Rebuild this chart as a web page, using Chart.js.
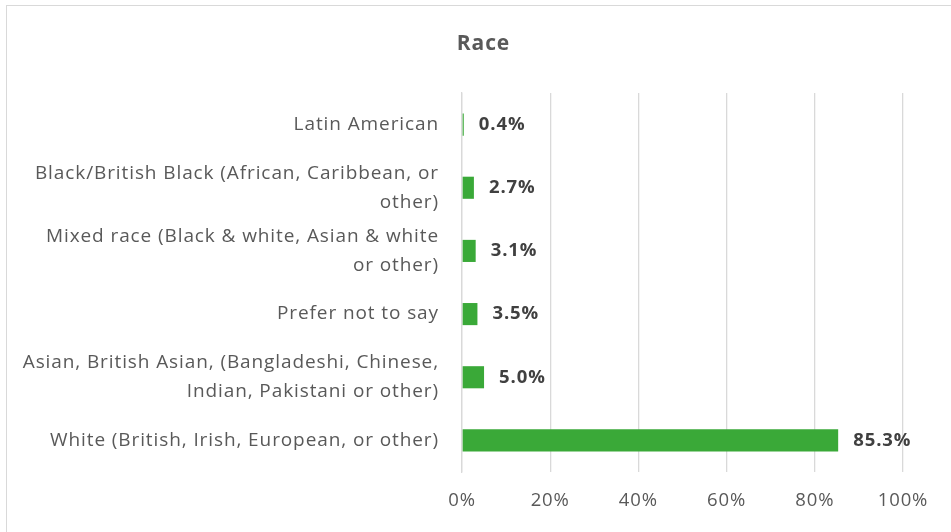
<!DOCTYPE html>
<html>
<head>
<meta charset="utf-8">
<script src="https://cdn.jsdelivr.net/npm/chart.js@4"></script>
<style>
  html, body { margin: 0; padding: 0; background: #fff; overflow: hidden; }
  #frame { position: absolute; left: 6px; top: 5px; width: 980px; height: 560px; border: 1.5px solid #d9d9d9; }
  #wrap { position: absolute; left: 0; top: 0; width: 951px; height: 532px; }
</style>
</head>
<body>
<div id="frame"></div>
<div id="wrap"><canvas id="c" width="951" height="532"></canvas></div>
<script>
// Survey respondents by race (share of total, %)
const chartTitle = 'Race';
const categories = [
  'Latin American',
  ['Black/British Black (African, Caribbean, or', 'other)'],
  ['Mixed race (Black & white, Asian & white', 'or other)'],
  'Prefer not to say',
  ['Asian, British Asian, (Bangladeshi, Chinese,', 'Indian, Pakistani or other)'],
  'White (British, Irish, European, or other)'
];
const shares = [0.4, 2.7, 3.1, 3.5, 5.0, 85.3];
const tickValues = [0, 20, 40, 60, 80, 100];

const FONT = "'Open Sans', 'Liberation Sans', sans-serif";

// Slightly open tracking for all canvas text
const tracking = {
  id: 'tracking',
  beforeDraw(chart) { chart.ctx.letterSpacing = '0.9px'; }
};

// Title centred over the framed chart box (frame starts a few px in from the left)
const frameTitle = {
  id: 'frameTitle',
  afterDraw(chart) {
    const ctx = chart.ctx;
    ctx.save();
    ctx.font = "bold 21px " + FONT;
    ctx.fillStyle = '#595959';
    ctx.textAlign = 'center';
    ctx.textBaseline = 'middle';
    ctx.fillText(chartTitle, (chart.width + 16) / 2, chart.chartArea.top - 49);
    ctx.restore();
  }
};

// Writes the percentage to the right of each bar
const valueLabels = {
  id: 'valueLabels',
  afterDatasetsDraw(chart) {
    const ctx = chart.ctx;
    const meta = chart.getDatasetMeta(0);
    ctx.save();
    ctx.font = "bold 18.5px " + FONT;
    ctx.fillStyle = '#404040';
    ctx.textAlign = 'left';
    ctx.textBaseline = 'middle';
    meta.data.forEach((bar, i) => {
      ctx.fillText(shares[i].toFixed(1) + '%', bar.x + 15, bar.y);
    });
    ctx.restore();
  }
};

new Chart(document.getElementById('c'), {
  type: 'bar',
  data: {
    labels: categories,
    datasets: [{
      data: shares,
      backgroundColor: '#3aa938',
      borderWidth: 0,
      categoryPercentage: 1,
      barPercentage: 0.35
    }]
  },
  options: {
    indexAxis: 'y',
    responsive: false,
    animation: false,
    layout: { padding: { left: 0, right: 48, top: 93, bottom: 0 } },
    plugins: {
      legend: { display: false },
      tooltip: { enabled: false },
      title: { display: false }
    },
    scales: {
      x: {
        min: 0,
        max: 100,
        afterBuildTicks(scale) { scale.ticks = tickValues.map(v => ({ value: v })); },
        afterFit(scale) { scale.height = 60; },
        grid: { color: '#d9d9d9', lineWidth: 1.3, drawTicks: false },
        border: { display: false },
        ticks: {
          color: '#595959',
          font: { family: FONT, size: 18.5 },
          padding: 18,
          callback: v => v + '%'
        }
      },
      y: {
        afterFit(scale) { scale.width = 462; },
        grid: { display: false, drawTicks: false },
        border: { display: true, color: '#d9d9d9', width: 1.3 },
        ticks: {
          color: '#595959',
          font: { family: FONT, size: 19, lineHeight: 1.52 },
          padding: 23,
          crossAlign: 'near'
        }
      }
    }
  },
  plugins: [tracking, valueLabels, frameTitle]
});
</script>
</body>
</html>
